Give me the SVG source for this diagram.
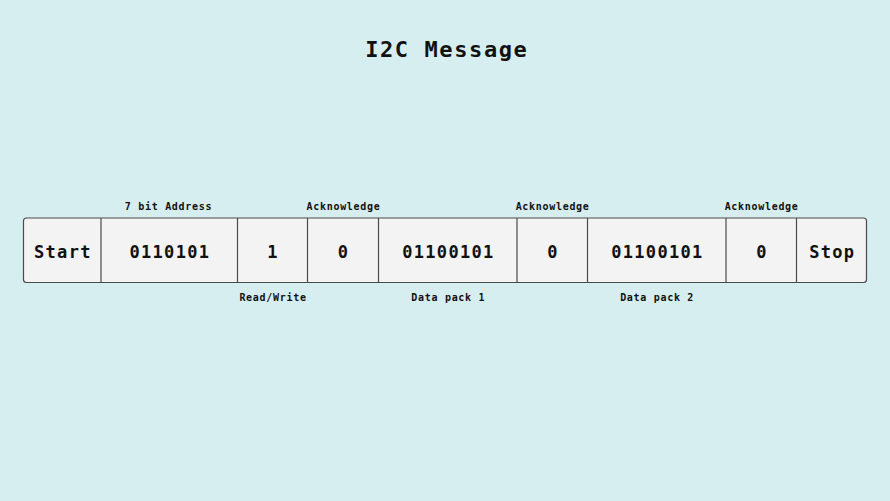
<svg xmlns="http://www.w3.org/2000/svg" width="890" height="501" viewBox="0 0 890 501">
<style>
.big{font-family:"DejaVu Sans Mono","Liberation Mono",monospace;font-weight:bold;font-size:17px;letter-spacing:1.3px;fill:#111;text-anchor:middle}
.small{font-family:"DejaVu Sans Mono","Liberation Mono",monospace;font-weight:bold;font-size:10px;letter-spacing:0.7px;fill:#111;text-anchor:middle}
.title{font-family:"DejaVu Sans Mono","Liberation Mono",monospace;font-weight:bold;font-size:22px;letter-spacing:1.6px;fill:#111;text-anchor:middle}
.div{stroke:#4a4a4a;stroke-width:1.2}
</style>
<rect width="890" height="501" fill="#d7eef0"/>
<text class="title" x="446.8" y="56.5">I2C Message</text>
<g id="frame"><rect x="23.5" y="218" width="843" height="64.5" rx="3" fill="#f3f3f3" stroke="#4a4a4a" stroke-width="1.2"/></g>
<g id="connectors">
<line class="div" x1="101" y1="218" x2="101" y2="282.5"/>
<line class="div" x1="237.5" y1="218" x2="237.5" y2="282.5"/>
<line class="div" x1="307.5" y1="218" x2="307.5" y2="282.5"/>
<line class="div" x1="378.5" y1="218" x2="378.5" y2="282.5"/>
<line class="div" x1="517" y1="218" x2="517" y2="282.5"/>
<line class="div" x1="587.5" y1="218" x2="587.5" y2="282.5"/>
<line class="div" x1="726" y1="218" x2="726" y2="282.5"/>
<line class="div" x1="796.5" y1="218" x2="796.5" y2="282.5"/>
</g>
<g id="start"><text class="big" x="62.9" y="257.5">Start</text></g>
<g id="address"><text class="big" x="169.9" y="257.5">0110101</text><text class="small" x="168.5" y="209.5">7 bit Address</text></g>
<g id="rw"><text class="big" x="273.1" y="257.5">1</text><text class="small" x="273" y="300.5">Read/Write</text></g>
<g id="ack1"><text class="big" x="343.6" y="257.5">0</text><text class="small" x="343.5" y="209.5">Acknowledge</text></g>
<g id="data1"><text class="big" x="448.4" y="257.5">01100101</text><text class="small" x="448.3" y="300.5">Data pack 1</text></g>
<g id="ack2"><text class="big" x="552.9" y="257.5">0</text><text class="small" x="552.6" y="209.5">Acknowledge</text></g>
<g id="data2"><text class="big" x="657.4" y="257.5">01100101</text><text class="small" x="657.1" y="300.5">Data pack 2</text></g>
<g id="ack3"><text class="big" x="761.9" y="257.5">0</text><text class="small" x="761.6" y="209.5">Acknowledge</text></g>
<g id="stop"><text class="big" x="832.2" y="257.5">Stop</text></g>
</svg>
